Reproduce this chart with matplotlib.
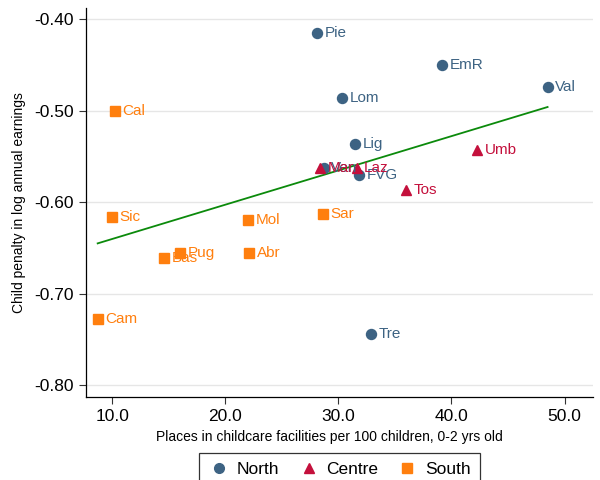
import matplotlib
matplotlib.use("Agg")
import matplotlib.pyplot as plt
from matplotlib.lines import Line2D

plt.rcParams['font.family'] = ['Liberation Sans', 'DejaVu Sans']

# regions: x = childcare places per 100 children, y = child penalty
north_names = ['Pie', 'Lom', 'EmR', 'Val', 'Lig', 'FVG', 'Ven', 'Tre']
north_x = [28.1, 30.3, 39.2, 48.5, 31.5, 31.85, 28.7, 32.9]
north_y = [-0.415, -0.486, -0.450, -0.474, -0.536, -0.570, -0.5625, -0.744]

centre_names = ['Mar', 'Laz', 'Tos', 'Umb']
centre_x = [28.4, 31.6, 36.0, 42.3]
centre_y = [-0.5625, -0.5625, -0.587, -0.543]

south_names = ['Cal', 'Sic', 'Mol', 'Sar', 'Pug', 'Bas', 'Abr', 'Cam']
south_x = [10.2, 9.95, 22.0, 28.6, 16.0, 14.6, 22.1, 8.7]
south_y = [-0.500, -0.616, -0.620, -0.613, -0.655, -0.661, -0.656, -0.728]

# fitted line end points
fit_x = [8.7, 48.5]
fit_y = [-0.645, -0.496]

xticks = [10, 20, 30, 40, 50]
yticks = [-0.4, -0.5, -0.6, -0.7, -0.8]

c_north = '#3d6383'
c_centre = '#c4103c'
c_south = '#ff7f0e'
c_fit = '#0b8a0b'

fig = plt.figure(figsize=(6, 4.8), dpi=100)
ax = fig.add_axes([0.143, 0.173, 0.845, 0.81])

for yv in yticks:
    ax.axhline(yv, color='#e6e6e6', lw=1, zorder=0)

ax.plot(fit_x, fit_y, color=c_fit, lw=1.3, zorder=2)

groups = [
    (north_names, north_x, north_y, 'o', c_north, 7.2),
    (centre_names, centre_x, centre_y, '^', c_centre, 7.8),
    (south_names, south_x, south_y, 's', c_south, 7.2),
]
for names, xs, ys, mk, col, ms in groups:
    ax.plot(xs, ys, linestyle='none', marker=mk, color=col, markersize=ms, zorder=3)
    for n, x, y in zip(names, xs, ys):
        ax.annotate(n, (x, y), xytext=(5.5, 0), textcoords='offset points',
                    va='center', ha='left', fontsize=11, color=col, zorder=4)

ax.set_xlim(7.65, 52.5)
ax.set_ylim(-0.8128, -0.388)
ax.set_xticks(xticks)
ax.set_xticklabels([f'{v:.1f}' for v in xticks], fontsize=12.5)
ax.set_yticks(yticks)
ax.set_yticklabels([f'-{abs(v):.2f}' for v in yticks], fontsize=12.5)
ax.tick_params(axis='both', direction='out', length=5, width=0.8, color='#333333')

for s in ['top', 'right']:
    ax.spines[s].set_visible(False)
for s in ['left', 'bottom']:
    ax.spines[s].set_linewidth(0.9)

ax.set_xlabel('Places in childcare facilities per 100 children, 0-2 yrs old', fontsize=10)
ax.xaxis.set_label_coords(0.481, -0.085)
ax.set_ylabel('Child penalty in log annual earnings', fontsize=10, labelpad=6)

handles = [
    Line2D([], [], linestyle='none', marker='o', color=c_north, markersize=7, label='North'),
    Line2D([], [], linestyle='none', marker='^', color=c_centre, markersize=7.5, label='Centre'),
    Line2D([], [], linestyle='none', marker='s', color=c_south, markersize=7, label='South'),
]
leg = fig.legend(handles=handles, loc='upper center', bbox_to_anchor=(0.566, 0.057),
                 ncol=3, fontsize=12.5, frameon=True, fancybox=False,
                 edgecolor='black', handletextpad=0.4, columnspacing=1.1,
                 borderpad=0.55, handlelength=1.2, borderaxespad=0)
leg.get_frame().set_linewidth(0.9)

fig.savefig('out.png', dpi=100)
